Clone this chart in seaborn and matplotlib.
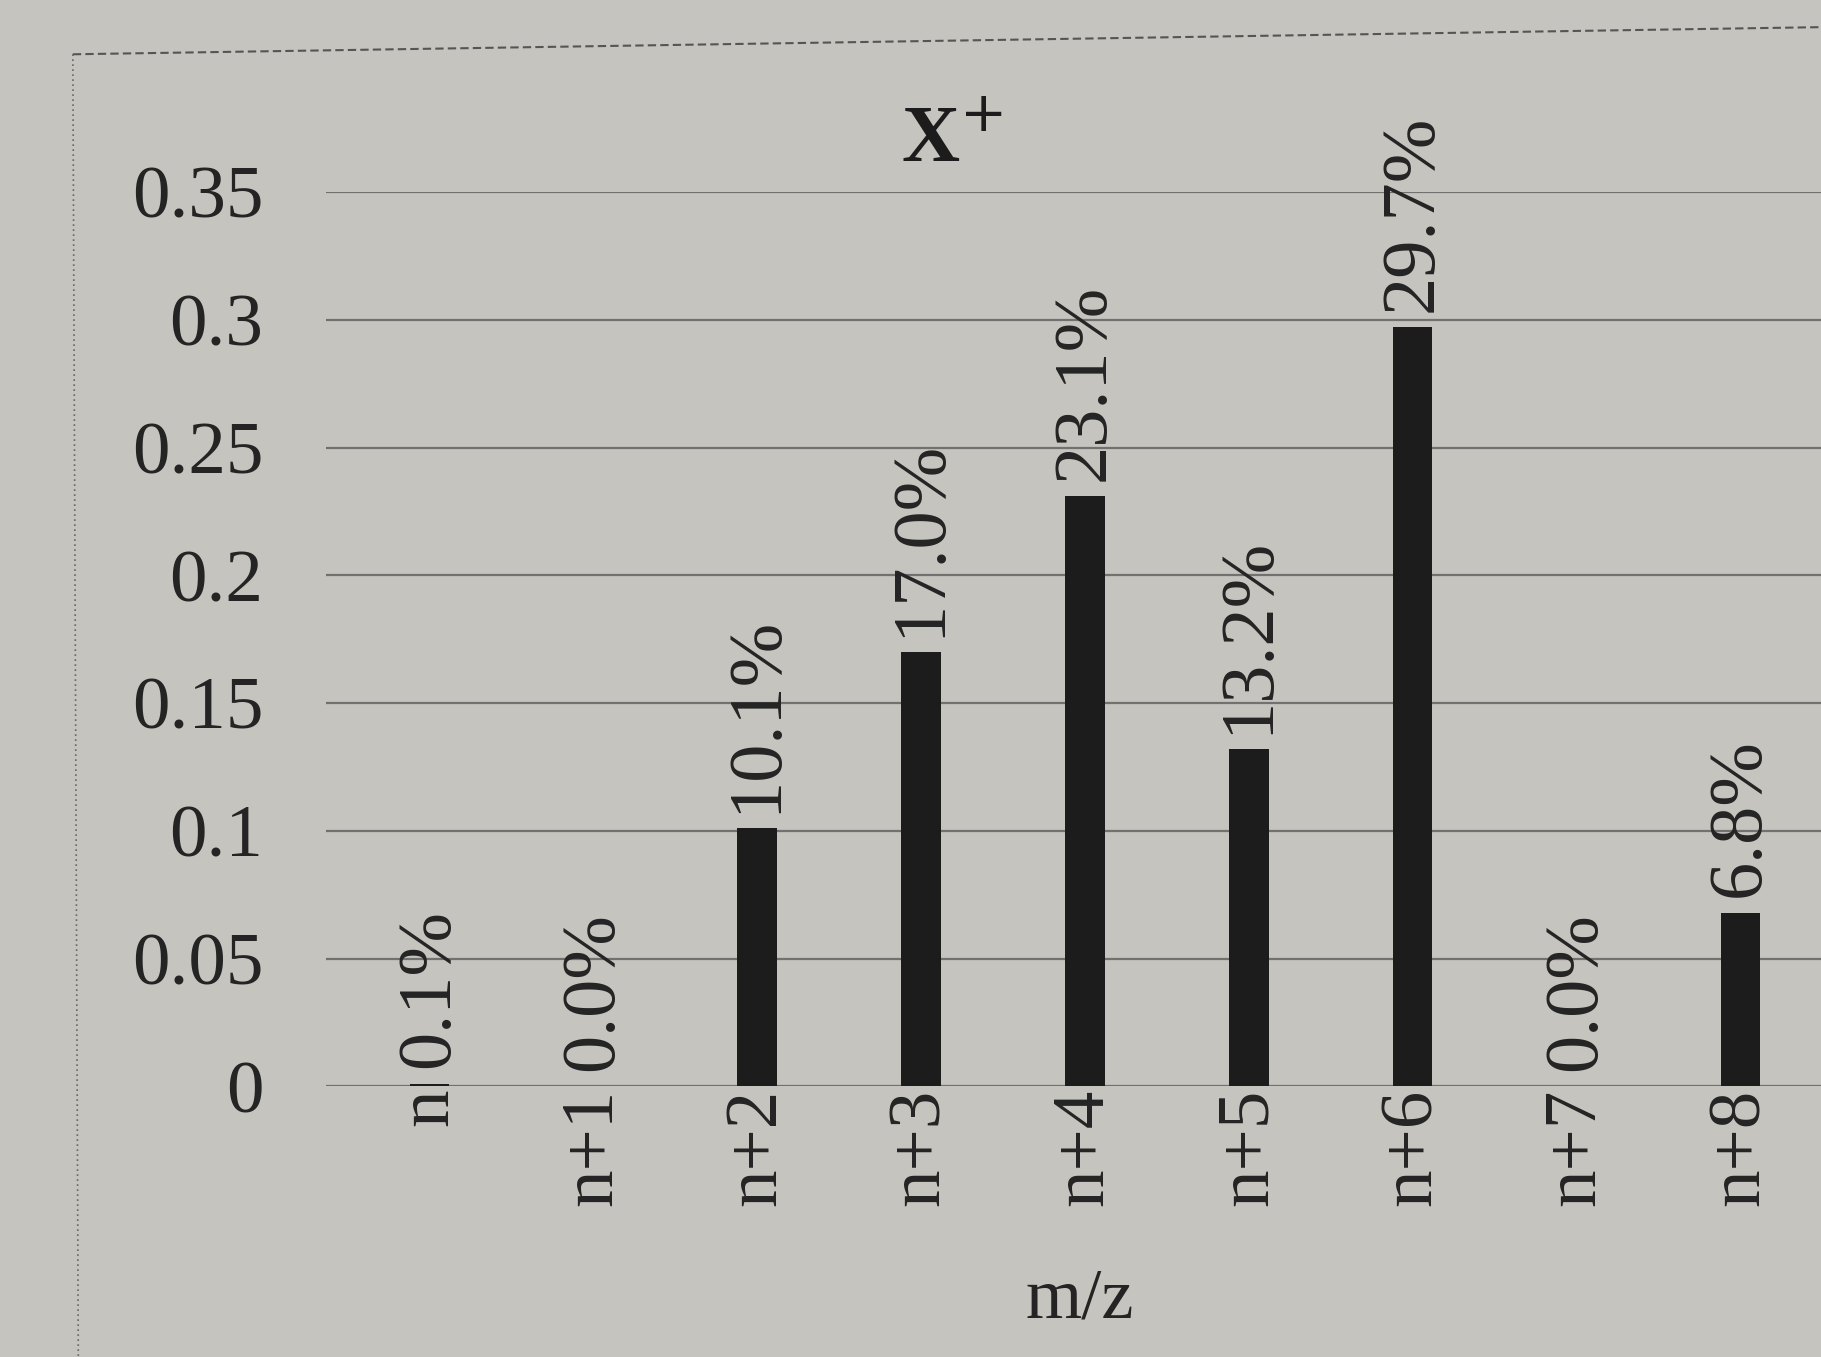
import matplotlib
matplotlib.use("Agg")
import matplotlib.pyplot as plt
import seaborn as sns
from matplotlib.lines import Line2D

labels = ["n", "n+1", "n+2", "n+3", "n+4", "n+5", "n+6", "n+7", "n+8"]
values = [0.001, 0.0, 0.101, 0.170, 0.231, 0.132, 0.297, 0.0, 0.068]
yticks = [0, 0.05, 0.1, 0.15, 0.2, 0.25, 0.3, 0.35]
ytick_labels = ["0", "0.05", "0.1", "0.15", "0.2", "0.25", "0.3", "0.35"]
title = "X$^{+}$"
xlabel = "m/z"

sns.set_style("white")
plt.rcParams["font.family"] = ["Liberation Serif", "DejaVu Serif"]
bg = "#c6c4bf"
txt = "#242424"

fig = plt.figure(figsize=(18.21, 13.57), dpi=100, facecolor=bg)
ax = fig.add_axes([0.179, 0.1995, 0.821, 0.659])
ax.set_facecolor(bg)

sns.barplot(x=labels, y=values, color="#1c1c1c", width=0.24, ax=ax,
            saturation=1, edgecolor="none")

ax.set_xlim(-0.63, 8.49)
ax.set_ylim(0, 0.35)
ax.set_yticks(yticks)
ax.set_yticklabels(ytick_labels, fontsize=54, color=txt)
ax.tick_params(axis="y", length=0, pad=45)
ax.set_xticks([])
ax.set_xlabel("")
ax.set_ylabel("")
for s in ax.spines.values():
    s.set_visible(False)
for y in yticks:
    ax.axhline(y, color="#555555", lw=1.6, zorder=0, alpha=0.75)

for i, (lab, v) in enumerate(zip(labels, values)):
    ax.text(i, -0.001, lab, rotation=90, ha="center", va="top",
            fontsize=54, color=txt)
    ax.text(i, v + 0.006, f"{v*100:.1f}%", rotation=90, ha="center",
            va="bottom", fontsize=55, color=txt)

fig.text(0.523, 0.895, title, ha="center", va="center", fontsize=58,
         fontweight="bold", color="#1c1c1c")
fig.text(0.593, 0.042, xlabel, ha="center", va="center", fontsize=52,
         color=txt)

# outer chart border (dotted)
fig.add_artist(Line2D([0.04, 1.0], [0.96, 0.98], transform=fig.transFigure,
                      color="#555555", lw=1.5, ls=(0, (4, 2))))
fig.add_artist(Line2D([0.04, 0.043], [0.96, 0.0], transform=fig.transFigure,
                      color="#666666", lw=1.2, ls=(0, (1, 2))))

fig.savefig("out.png", dpi=100, facecolor=bg)
